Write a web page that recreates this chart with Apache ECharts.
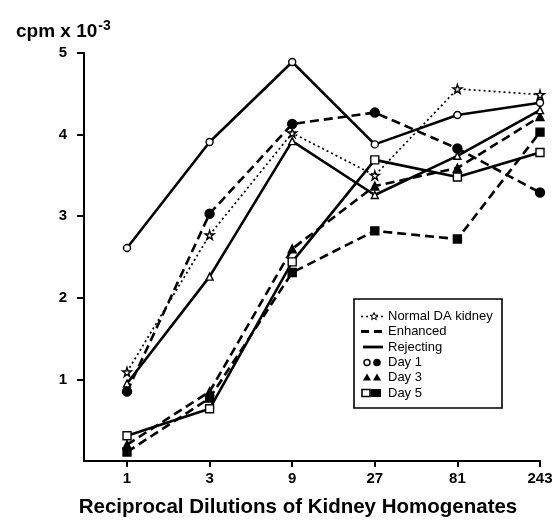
<!DOCTYPE html>
<html>
<head>
<meta charset="utf-8">
<script src="https://cdn.jsdelivr.net/npm/echarts@6/dist/echarts.min.js"></script>
<style>
html,body{margin:0;padding:0;background:#fff;}
#chart{width:555px;height:520px;}
</style>
</head>
<body>
<div id="chart"></div>
<script>
// ---- data ----
const categories = ['1', '3', '9', '27', '81', '243'];
const normalDA = [1.09, 2.77, 4.02, 3.50, 4.56, 4.49];
const enhancedDay1 = [0.85, 3.03, 4.13, 4.27, 3.83, 3.29];
const enhancedDay3 = [0.20, 0.85, 2.60, 3.37, 3.59, 4.22];
const enhancedDay5 = [0.11, 0.77, 2.31, 2.82, 2.72, 4.03];
const rejectingDay1 = [2.61, 3.91, 4.89, 3.88, 4.24, 4.39];
const rejectingDay3 = [0.95, 2.26, 3.92, 3.26, 3.74, 4.30];
const rejectingDay5 = [0.31, 0.64, 2.44, 3.69, 3.48, 3.78];
const yTickValues = [1, 2, 3, 4, 5];
const legendLabels = ['Normal DA kidney', 'Enhanced', 'Rejecting', 'Day 1', 'Day 3', 'Day 5'];

const FONT = '"Liberation Sans", Arial, Helvetica, sans-serif';
const STAR = 'path://M50,0 L61,35 L98,35 L68,57 L79,91 L50,70 L21,91 L32,57 L2,35 L39,35 Z';

const chart = echarts.init(document.getElementById('chart'), null, {renderer: 'canvas'});

function mkSeries(name, data, lineType, symbol, filled, size) {
  let lineStyle;
  if (lineType === 'dotted') lineStyle = {color: '#000', width: 1.7, type: [2, 3]};
  else if (lineType === 'dashed') lineStyle = {color: '#000', width: 2.6, type: [9, 5]};
  else lineStyle = {color: '#000', width: 2.6, type: 'solid'};
  return {
    name: name,
    type: 'line',
    xAxisIndex: 1,
    yAxisIndex: 1,
    data: data,
    symbol: symbol,
    symbolSize: size,
    showAllSymbol: true,
    lineStyle: lineStyle,
    itemStyle: {color: filled ? '#000' : '#fff', borderColor: '#000', borderWidth: 1.4},
    emphasis: {disabled: true},
    animation: false,
    z: 3
  };
}

// legend graphic
function starPoints(cx, cy, r) {
  const pts = [];
  for (let i = 0; i < 10; i++) {
    const rr = i % 2 === 0 ? r : r * 0.42;
    const a = -Math.PI / 2 + i * Math.PI / 5;
    pts.push([cx + rr * Math.cos(a), cy + rr * Math.sin(a)]);
  }
  return pts;
}
const LX = 354, LY = 299, LW = 148, LH = 109;
const rowY = [316.5, 331.5, 347, 362.5, 377.5, 393];
const legendEls = [
  {type: 'rect', shape: {x: LX, y: LY, width: LW, height: LH}, style: {fill: '#fff', stroke: '#000', lineWidth: 1.6}},
];
legendLabels.forEach((t, i) => {
  legendEls.push({type: 'text', style: {x: 388, y: rowY[i], text: t, fill: '#000', font: '13px ' + FONT, textVerticalAlign: 'middle', verticalAlign: 'middle'}});
});
// row symbols
legendEls.push({type: 'line', shape: {x1: 361, y1: rowY[0], x2: 384, y2: rowY[0]}, style: {stroke: '#000', lineWidth: 1.5, lineDash: [2, 3]}});
legendEls.push({type: 'polygon', shape: {points: starPoints(374, rowY[0], 4)}, style: {fill: '#fff', stroke: '#000', lineWidth: 1}});
legendEls.push({type: 'line', shape: {x1: 361, y1: rowY[1], x2: 384, y2: rowY[1]}, style: {stroke: '#000', lineWidth: 2.8, lineDash: [8, 5]}});
legendEls.push({type: 'line', shape: {x1: 363, y1: rowY[2], x2: 383, y2: rowY[2]}, style: {stroke: '#000', lineWidth: 2.8}});
legendEls.push({type: 'circle', shape: {cx: 367, cy: rowY[3], r: 3}, style: {fill: '#fff', stroke: '#000', lineWidth: 1.5}});
legendEls.push({type: 'circle', shape: {cx: 377, cy: rowY[3], r: 3.8}, style: {fill: '#000'}});
legendEls.push({type: 'polygon', shape: {points: [[367, rowY[4] - 4], [371, rowY[4] + 3], [363, rowY[4] + 3]]}, style: {fill: '#000'}});
legendEls.push({type: 'polygon', shape: {points: [[377, rowY[4] - 4], [381, rowY[4] + 3], [373, rowY[4] + 3]]}, style: {fill: '#000'}});
legendEls.push({type: 'rect', shape: {x: 362, y: rowY[5] - 3.5, width: 8, height: 7}, style: {fill: '#fff', stroke: '#000', lineWidth: 1.6}});
legendEls.push({type: 'rect', shape: {x: 371, y: rowY[5] - 4, width: 10, height: 8}, style: {fill: '#000'}});

const option = {
  animation: false,
  backgroundColor: '#fff',
  title: {
    text: '{a|cpm x 10}{b|-3}',
    left: 11, top: 14,
    textStyle: {
      rich: {
        a: {fontFamily: FONT, fontWeight: 'bold', fontSize: 19, color: '#000', verticalAlign: 'bottom'},
        b: {fontFamily: FONT, fontWeight: 'bold', fontSize: 14, color: '#000', verticalAlign: 'top', padding: [0, 0, 8, 1]}
      }
    }
  },
  grid: [
    {left: 84, right: 15, top: 53, bottom: 59, containLabel: false, outerBoundsMode: 'none'},
    {left: 127, right: 15, top: 53, bottom: 59, containLabel: false, outerBoundsMode: 'none'}
  ],
  xAxis: [
    {
      gridIndex: 0, type: 'value', min: 0, max: 1,
      axisLine: {show: true, lineStyle: {color: '#000', width: 2}},
      axisTick: {show: false}, axisLabel: {show: false}, splitLine: {show: false}
    },
    {
      gridIndex: 1, type: 'category', data: categories, boundaryGap: false,
      name: 'Reciprocal Dilutions of Kidney Homogenates',
      nameLocation: 'middle', nameGap: 36,
      nameTextStyle: {fontFamily: FONT, fontWeight: 'bold', fontSize: 20.5, color: '#000', padding: [0, 0, 0, -71]},
      axisLine: {show: false},
      axisTick: {show: true, inside: false, length: 6, lineStyle: {color: '#000', width: 2}},
      axisLabel: {show: true, margin: 10, fontFamily: FONT, fontWeight: 'bold', fontSize: 15, color: '#000'},
      splitLine: {show: false}
    }
  ],
  yAxis: [
    {
      gridIndex: 0, type: 'value', min: 0, max: 5, interval: 1,
      axisLine: {show: true, lineStyle: {color: '#000', width: 2}},
      axisTick: {show: true, length: 7, lineStyle: {color: '#000', width: 2}, customValues: yTickValues},
      axisLabel: {show: true, margin: 17, fontFamily: FONT, fontWeight: 'bold', fontSize: 15, color: '#000', customValues: yTickValues},
      splitLine: {show: false}
    },
    {
      gridIndex: 1, type: 'value', min: 0, max: 5, interval: 1, show: false,
      splitLine: {show: false}
    }
  ],
  series: [
    mkSeries('Normal DA kidney', normalDA, 'dotted', STAR, false, 9),
    mkSeries('Enhanced Day 1', enhancedDay1, 'dashed', 'circle', true, 9),
    mkSeries('Enhanced Day 3', enhancedDay3, 'dashed', 'triangle', true, 8),
    mkSeries('Enhanced Day 5', enhancedDay5, 'dashed', 'rect', true, 8),
    mkSeries('Rejecting Day 1', rejectingDay1, 'solid', 'circle', false, 7),
    mkSeries('Rejecting Day 3', rejectingDay3, 'solid', 'triangle', false, 7),
    mkSeries('Rejecting Day 5', rejectingDay5, 'solid', 'rect', false, 8)
  ],
  graphic: [{type: 'group', z: 100, children: legendEls}]
};
chart.setOption(option);
</script>
</body>
</html>
